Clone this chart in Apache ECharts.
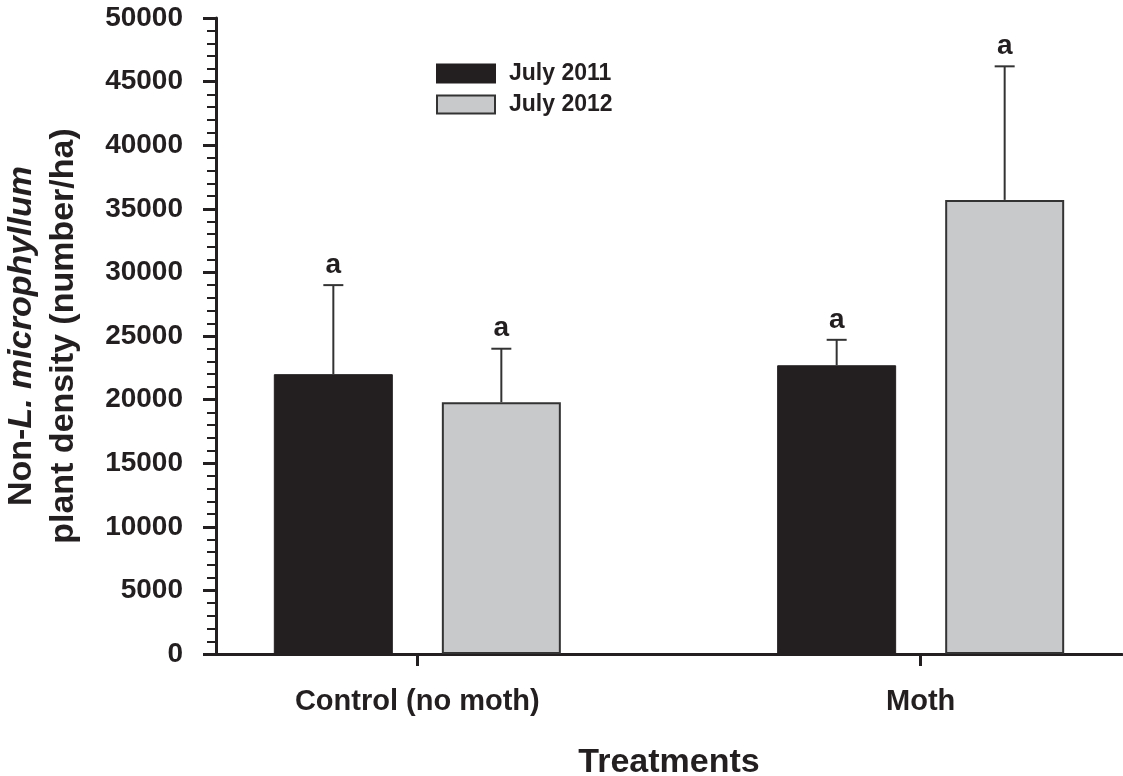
<!DOCTYPE html>
<html>
<head>
<meta charset="utf-8">
<script src="https://cdn.jsdelivr.net/npm/echarts@6/dist/echarts.min.js"></script>
<style>
html,body{margin:0;padding:0;background:#fff;}
#chart{width:1123px;height:776px;}
</style>
</head>
<body>
<div id="chart"></div>
<script>
// ---- data ----
var categories = ['Control (no moth)', 'Moth'];
var categoryPos = [1, 2];
var seriesNames = ['July 2011', 'July 2012'];
var means2011 = [22000, 22700];
var means2012 = [19800, 35700];
var upper2011 = [29000, 24700];
var upper2012 = [24000, 46200];
var letters2011 = ['a', 'a'];
var letters2012 = ['a', 'a'];
var yTicks = [0, 5000, 10000, 15000, 20000, 25000, 30000, 35000, 40000, 45000, 50000];

// ---- style constants ----
var FONT = '"Liberation Sans", Arial, Helvetica, sans-serif';
var INK = '#231f20';
var BAR_W = 119;
var BAR_GAP = 49;
var OFFSET = (BAR_W + BAR_GAP) / 2;

function pairs(vals) {
  return vals.map(function (v, i) { return [categoryPos[i], v]; });
}
function errData(means, ups, letters) {
  return means.map(function (m, i) { return [categoryPos[i], m, ups[i], letters[i]]; });
}
function makeErr(dx) {
  return function (params, api) {
    var x = api.value(0);
    var top = api.coord([x, api.value(2)]);
    var base = api.coord([x, api.value(1)]);
    var cx = top[0] + dx;
    return {
      type: 'group',
      children: [
        { type: 'line', shape: { x1: cx, y1: base[1], x2: cx, y2: top[1] },
          style: { stroke: '#333', lineWidth: 2 } },
        { type: 'line', shape: { x1: cx - 10, y1: top[1], x2: cx + 10, y2: top[1] },
          style: { stroke: '#333', lineWidth: 2 } },
        { type: 'text', x: cx, y: top[1] - 6,
          style: { text: api.value(3), fill: INK, font: 'bold 28px ' + FONT,
                   textAlign: 'center', textVerticalAlign: 'bottom' } }
      ]
    };
  };
}

var chart = echarts.init(document.getElementById('chart'));
chart.setOption({
  backgroundColor: '#fff',
  animation: false,
  grid: { left: 216, right: 1, top: 18, bottom: 122, containLabel: false, outerBoundsMode: 'none' },
  legend: {
    data: seriesNames,
    orient: 'vertical',
    left: 436, top: 62,
    padding: 0,
    itemWidth: 58, itemHeight: 18, itemGap: 8,
    icon: 'rect',
    textStyle: { fontFamily: FONT, fontWeight: 'bold', fontSize: 23, lineHeight: 18, color: INK, padding: [0, 0, 0, 9] }
  },
  xAxis: {
    type: 'value',
    min: 0.6, max: 2.4,
    name: 'Treatments',
    nameLocation: 'middle',
    nameGap: 92,
    nameTextStyle: { fontFamily: FONT, fontWeight: 'bold', fontSize: 34, color: INK },
    splitLine: { show: false },
    axisLine: { show: true, onZero: false, lineStyle: { color: INK, width: 3 } },
    axisTick: { show: true, customValues: categoryPos, length: 12, inside: false,
                lineStyle: { color: INK, width: 3 } },
    axisLabel: {
      customValues: categoryPos,
      margin: 33,
      fontFamily: FONT, fontWeight: 'bold', fontSize: 29, color: INK,
      formatter: function (v) {
        var idx = categoryPos.indexOf(Math.round(v));
        return idx >= 0 ? categories[idx] : '';
      }
    }
  },
  yAxis: {
    type: 'value',
    min: yTicks[0], max: yTicks[yTicks.length - 1], interval: yTicks[1] - yTicks[0],
    name: '{n|Non-}{i|L. microphyllum}\n{n|plant density (number/ha)}',
    nameLocation: 'middle',
    nameGap: 131,
    nameTextStyle: {
      color: INK,
      lineHeight: 42,
      rich: {
        n: { fontFamily: FONT, fontWeight: 'bold', fontSize: 34, color: INK, lineHeight: 42 },
        i: { fontFamily: FONT, fontWeight: 'bold', fontStyle: 'italic', fontSize: 34, color: INK, lineHeight: 42 }
      }
    },
    splitLine: { show: false },
    axisLine: { show: true, lineStyle: { color: INK, width: 3 } },
    axisTick: { show: true, length: 13, inside: false, lineStyle: { color: INK, width: 3 } },
    minorTick: { show: true, splitNumber: 5, length: 9, lineStyle: { color: INK, width: 2 } },
    minorSplitLine: { show: false },
    axisLabel: { margin: 33, fontFamily: FONT, fontWeight: 'bold', fontSize: 28, color: INK,
                 formatter: function (v) { return String(v); } }
  },
  series: [
    { name: seriesNames[0], type: 'bar', data: pairs(means2011),
      barWidth: BAR_W, barGap: (BAR_GAP / BAR_W * 100).toFixed(1) + '%',
      itemStyle: { color: INK, borderColor: INK, borderWidth: 1 } },
    { name: seriesNames[1], type: 'bar', data: pairs(means2012),
      barWidth: BAR_W, barGap: (BAR_GAP / BAR_W * 100).toFixed(1) + '%',
      itemStyle: { color: '#c8c9cb', borderColor: '#333', borderWidth: 2 } },
    { name: 'err2011', type: 'custom', data: errData(means2011, upper2011, letters2011),
      renderItem: makeErr(-OFFSET), z: 5 },
    { name: 'err2012', type: 'custom', data: errData(means2012, upper2012, letters2012),
      renderItem: makeErr(OFFSET), z: 5 }
  ]
});
</script>
</body>
</html>
